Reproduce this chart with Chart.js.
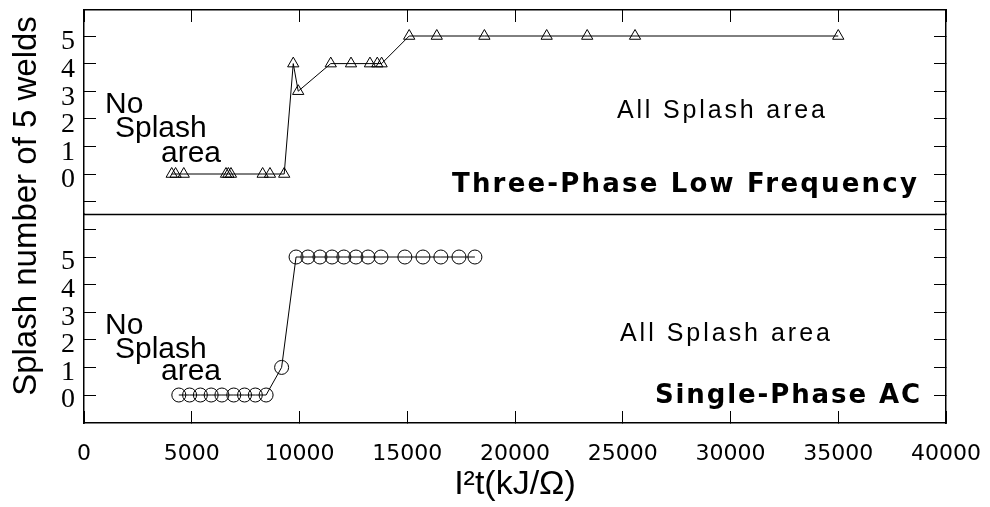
<!DOCTYPE html>
<html>
<head>
<meta charset="utf-8">
<script src="https://cdn.jsdelivr.net/npm/chart.js@4"></script>
<style>
html,body{margin:0;padding:0;background:#fff;}
#wrap{width:990px;height:507px;}
</style>
</head>
<body>
<div id="wrap"><canvas id="c" width="990" height="507"></canvas></div>
<script>
// ---------- data ----------
const threePhaseX = [4070, 4250, 4630, 6590, 6700, 6820, 8290, 8630, 9290, 9710, 9940, 11450, 12390, 13270, 13610, 13810, 15090, 16370, 18580, 21470, 23350, 25570, 35000];
const threePhaseY = [0, 0, 0, 0, 0, 0, 0, 0, 0, 4, 3, 4, 4, 4, 4, 4, 5, 5, 5, 5, 5, 5, 5];
const singlePhaseX = [4400, 4900, 5400, 5900, 6400, 6950, 7450, 7950, 8450, 9170, 9840, 10390, 10950, 11510, 12060, 12620, 13180, 13780, 14890, 15730, 16560, 17400, 18140];
const singlePhaseY = [0, 0, 0, 0, 0, 0, 0, 0, 0, 1, 5, 5, 5, 5, 5, 5, 5, 5, 5, 5, 5, 5, 5];
const xTickLabels = ['0', '5000', '10000', '15000', '20000', '25000', '30000', '35000', '40000'];
const yTickLabels = ['0', '1', '2', '3', '4', '5'];
const xTitle = 'I\u00B2t(kJ/\u03A9)';
const yTitle = 'Splash number of 5 welds';
const topPanelName = 'Three-Phase Low Frequency';
const bottomPanelName = 'Single-Phase AC';

// ---------- annotation layout (data coordinates) ----------
const notes = [
  {t:'No', axis:'yTop', x:974, y:2.21, font:'30px "Liberation Sans"'},
  {t:'Splash', axis:'yTop', x:1438, y:1.34, font:'30px "Liberation Sans"'},
  {t:'area', axis:'yTop', x:3573, y:0.435, font:'30px "Liberation Sans"'},
  {t:'All Splash area', axis:'yTop', x:24731, x2:34382, y:2.03, font:'25px "Liberation Sans"'},
  {t:topPanelName, axis:'yTop', x:17075, x2:38651, y:-0.652, font:'bold 26px "DejaVu Sans"'},
  {t:'No', axis:'yBot', x:974, y:2.21, font:'30px "Liberation Sans"'},
  {t:'Splash', axis:'yBot', x:1438, y:1.34, font:'30px "Liberation Sans"'},
  {t:'area', axis:'yBot', x:3573, y:0.543, font:'30px "Liberation Sans"'},
  {t:'All Splash area', axis:'yBot', x:24870, x2:34614, y:1.96, font:'25px "Liberation Sans"'},
  {t:bottomPanelName, axis:'yBot', x:26494, x2:38790, y:-0.29, font:'bold 26px "DejaVu Sans"'}
];

const TOP_RANGE = {min:-1.449, max:5.942};
const BOT_RANGE = {min:-1.014, max:6.558};

const annotate = {
  id:'annotate',
  afterDatasetsDraw(chart) {
    const ctx = chart.ctx;
    const xs = chart.scales.x;
    const ca = chart.chartArea;
    ctx.save();
    const yb = chart.scales.yBot;
    ctx.strokeStyle = '#000';
    ctx.lineWidth = 1.5;
    ctx.beginPath();
    ctx.moveTo(ca.left, Math.round(yb.top) + 0.5);
    ctx.lineTo(ca.right, Math.round(yb.top) + 0.5);
    ctx.stroke();
    ctx.fillStyle = '#000';
    ctx.textBaseline = 'alphabetic';
    ctx.textAlign = 'left';
    for (const n of notes) {
      const ys = chart.scales[n.axis];
      const px = xs.getPixelForValue(n.x);
      const py = ys.getPixelForValue(n.y);
      ctx.font = n.font;
      ctx.letterSpacing = '0px';
      if (n.x2 !== undefined) {
        const target = xs.getPixelForValue(n.x2) - px;
        const w = ctx.measureText(n.t).width;
        const ls = (target - w) / (n.t.length - 1);
        ctx.letterSpacing = ls.toFixed(2) + 'px';
      }
      ctx.fillText(n.t, px, py);
      ctx.letterSpacing = '0px';
    }
    ctx.translate(27, 206);
    ctx.rotate(-Math.PI / 2);
    ctx.textAlign = 'center';
    ctx.textBaseline = 'middle';
    ctx.font = '33px "Liberation Sans"';
    ctx.fillText(yTitle, 0, 0);
    ctx.restore();
  }
};

const gridIn = {display:true, drawOnChartArea:false, drawTicks:true, tickLength:-12, color:'#000', lineWidth:1};
const borderOpt = {display:true, color:'#000', width:1.5};
const yLabelCb = v => yTickLabels.includes(String(v)) ? String(v) : '';
function fixBox(dim, size) {
  return s => {
    s[dim] = size;
    s.paddingTop = 0; s.paddingBottom = 0; s.paddingLeft = 0; s.paddingRight = 0;
  };
}

new Chart(document.getElementById('c'), {
  type:'scatter',
  data:{
    datasets:[
      {
        label:topPanelName,
        data:threePhaseX.map((x, i) => ({x:x, y:threePhaseY[i]})),
        xAxisID:'x', yAxisID:'yTop',
        showLine:true, borderColor:'#000', borderWidth:1,
        pointStyle:'triangle', pointRadius:6.5,
        pointBorderColor:'#000', pointBackgroundColor:'rgba(0,0,0,0)', pointBorderWidth:1
      },
      {
        label:bottomPanelName,
        data:singlePhaseX.map((x, i) => ({x:x, y:singlePhaseY[i]})),
        xAxisID:'x', yAxisID:'yBot',
        showLine:true, borderColor:'#000', borderWidth:1,
        pointStyle:'circle', pointRadius:7,
        pointBorderColor:'#000', pointBackgroundColor:'rgba(0,0,0,0)', pointBorderWidth:1
      }
    ]
  },
  options:{
    responsive:false,
    animation:false,
    devicePixelRatio:1,
    layout:{padding:{left:50, right:44, top:0, bottom:0}},
    plugins:{legend:{display:false}, tooltip:{enabled:false}},
    scales:{
      x:{
        type:'linear', position:'bottom', min:0, max:40000,
        ticks:{stepSize:5000, autoSkip:false, maxRotation:0, padding:30, color:'#000',
          font:{family:'"DejaVu Sans"', size:22},
          callback:(v, i) => xTickLabels[i] !== undefined ? xTickLabels[i] : ''},
        grid:gridIn, border:borderOpt,
        title:{display:true, text:xTitle, color:'#000', font:{family:'"Liberation Sans"', size:34}, padding:{top:0, bottom:2}},
        afterFit:fixBox('height', 84)
      },
      x2:{
        type:'linear', position:'top', min:0, max:40000,
        ticks:{display:false, stepSize:5000},
        grid:gridIn, border:borderOpt,
        afterFit:fixBox('height', 10)
      },
      yTop:{
        type:'linear', position:'left', stack:'L', stackWeight:204, weight:2,
        min:TOP_RANGE.min, max:TOP_RANGE.max,
        ticks:{stepSize:1, includeBounds:false, autoSkip:false, padding:21, labelOffset:6, color:'#000',
          font:{family:'"Liberation Serif"', size:28}, callback:yLabelCb},
        grid:gridIn, border:borderOpt,
        afterFit:fixBox('width', 34)
      },
      yBot:{
        type:'linear', position:'left', stack:'L', stackWeight:209, weight:1,
        min:BOT_RANGE.min, max:BOT_RANGE.max,
        ticks:{stepSize:1, includeBounds:false, autoSkip:false, padding:21, labelOffset:5, color:'#000',
          font:{family:'"Liberation Serif"', size:28}, callback:yLabelCb},
        grid:gridIn, border:borderOpt,
        afterFit:fixBox('width', 34)
      },
      yTopR:{
        type:'linear', position:'right', stack:'R', stackWeight:204, weight:1,
        min:TOP_RANGE.min, max:TOP_RANGE.max,
        ticks:{display:false, stepSize:1, includeBounds:false},
        grid:gridIn, border:borderOpt,
        afterFit:fixBox('width', 0)
      },
      yBotR:{
        type:'linear', position:'right', stack:'R', stackWeight:209, weight:2,
        min:BOT_RANGE.min, max:BOT_RANGE.max,
        ticks:{display:false, stepSize:1, includeBounds:false},
        grid:gridIn, border:borderOpt,
        afterFit:fixBox('width', 0)
      }
    }
  },
  plugins:[annotate]
});
</script>
</body>
</html>
